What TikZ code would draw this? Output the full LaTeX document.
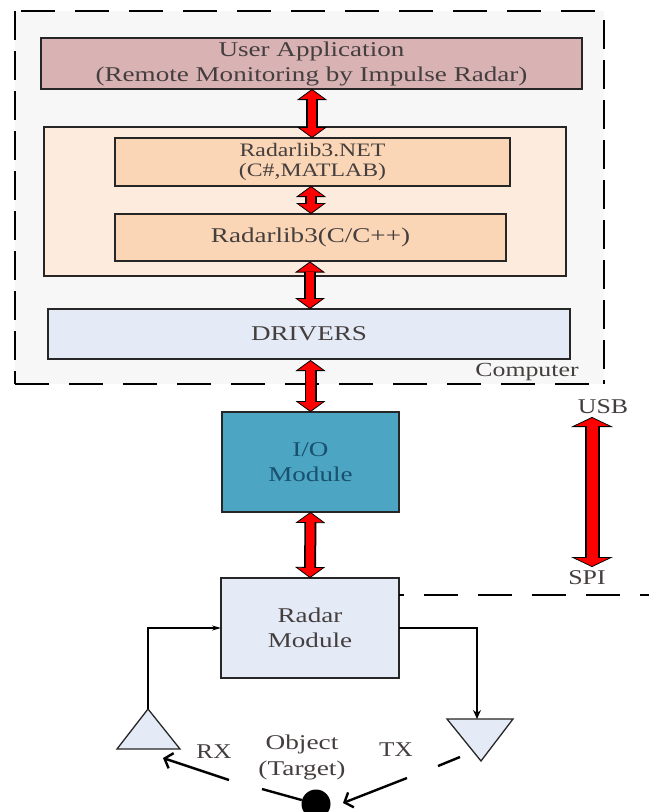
\documentclass[tikz,border=0pt]{standalone}
\usepackage{graphicx}
\usepackage{fontspec}
\setmainfont{Liberation Serif}
\usetikzlibrary{arrows.meta}
\definecolor{txt}{HTML}{443E3E}
\newcommand{\sx}[1]{\scalebox{1.29}[1]{#1}}
\tikzset{
  x=1pt,y=-1pt,
  box/.style={draw=black!85,line width=1.3pt,inner sep=0pt,outer sep=0pt,align=center,text=txt,font=\fontsize{21}{24}\selectfont},
  bigarrow/.style={draw=black,line width=12pt,
    {Triangle[length=11pt,width=30pt,fill=red,line width=0.8pt]}-{Triangle[length=11pt,width=30pt,fill=red,line width=0.8pt]},
    postaction={draw=red,line width=8.5pt,shorten >=10pt,shorten <=10pt,-}},
  wire/.style={draw=black,line width=1.4pt},
  wave/.style={draw=black,line width=2.4pt},
  dashh/.style={draw=black,line width=1.3pt,dash pattern=on 34pt off 20pt},
  dashv/.style={draw=black,line width=1.3pt,dash pattern=on 29pt off 11pt},
  lbl/.style={inner sep=0pt,text=txt,align=center,font=\fontsize{21}{26}\selectfont},
}
\begin{document}
\begin{tikzpicture}
\useasboundingbox (0,0) rectangle (649,812);
\fill[white] (0,0) rectangle (649,812);
\coordinate (tl) at (15,11);
\coordinate (br) at (604,384);
\path[fill=black!3] (tl) rectangle (br);
\draw[dashh] (21,11) -- (br |- tl);
\draw[dashh] (15,384) -- (br);
\draw[dashv] (tl) -- (15,384);
\draw[dashv] (604,20) -- (br);
\node[lbl,font=\fontsize{20}{24}\selectfont] (comp) at (527,372) {\sx{Computer}};
\node[box,fill={rgb,255:red,217;green,178;blue,180},minimum width=541pt,minimum height=51pt] (user) at (311.5,63.5) {\sx{User Application}\\[1pt]\sx{(Remote Monitoring by Impulse Radar)}};
\node[box,fill={rgb,255:red,253;green,235;blue,222},minimum width=522pt,minimum height=149pt] (outer) at (305,201.5) {};
\node[box,fill={rgb,255:red,251;green,214;blue,182},minimum width=395pt,minimum height=48pt,font=\fontsize{19}{20}\selectfont] (net) at (312.5,162) {\scalebox{1.25}[1]{Radarlib3.NET}\\\scalebox{1.25}[1]{(C\#,MATLAB)}};
\node[box,fill={rgb,255:red,251;green,214;blue,182},minimum width=391pt,minimum height=47pt] (lib) at (310.5,237.5) {\sx{Radarlib3(C/C++)}};
\node[box,fill={rgb,255:red,228;green,235;blue,246},minimum width=522pt,minimum height=50pt] (drv) at (309,334) {\sx{DRIVERS}};
\node[box,fill={rgb,255:red,75;green,165;blue,195},text={rgb,255:red,25;green,80;blue,110},minimum width=177pt,minimum height=100pt,font=\fontsize{21}{25}\selectfont] (io) at (310.5,462) {\sx{I/O}\\\sx{Module}};
\node[box,fill={rgb,255:red,228;green,235;blue,246},minimum width=178pt,minimum height=100pt,font=\fontsize{21}{25}\selectfont] (radar) at (310,628) {\sx{Radar}\\\sx{Module}};

\draw[bigarrow] (312,89) -- (312,138);
\draw[bigarrow] (311,186) -- (311,214);
\draw[bigarrow] (310,261.5) -- (310,309);
\draw[bigarrow] (310.5,360) -- (io.north);
\draw[bigarrow] (io.south) -- (radar.north);

\coordinate (usbtop) at (592,417);
\coordinate (spibot) at (592,567);
\draw[bigarrow,line width=15pt,{Triangle[length=10pt,width=42pt,fill=red,line width=0.8pt]}-{Triangle[length=10pt,width=42pt,fill=red,line width=0.8pt]},postaction={draw=red,line width=11pt,shorten >=9pt,shorten <=9pt,-}] (usbtop) -- (spibot);
\node[lbl] (usb) at (603,407) {\scalebox{1.23}[1]{USB}};
\node[lbl] (spi) at (587,578) {\scalebox{1.23}[1]{SPI}};

\coordinate (dashend) at (649,595);
\draw[dashh,dash phase=29pt] (radar.east |- dashend) -- (dashend);

% antennas
\coordinate (rxa) at (148,709);
\coordinate (txa) at (477,719);
\draw[line width=1.3pt,draw=black!85,fill={rgb,255:red,228;green,235;blue,246}] (rxa) -- (117,749) -- (180,749) -- cycle;
\draw[line width=1.3pt,draw=black!85,fill={rgb,255:red,228;green,235;blue,246}] (447,719) -- (513,719) -- (481,761) -- cycle;
\draw[wire,-{Stealth[length=9pt,width=5pt]}] (rxa) -- (rxa |- radar.west) -- (radar.west);
\draw[wire,-{Stealth[length=9pt,width=8pt]}] (radar.east) -- (radar.east -| txa) -- (txa);

% waves
\coordinate (w1a) at (229,780);
\coordinate (w1b) at (163,758);
\coordinate (w2a) at (407,778);
\coordinate (w2b) at (343,803);
\coordinate (w3a) at (460,757);
\coordinate (w3b) at (438,766);
\coordinate (w4a) at (262,789);
\node[circle,fill=black,minimum width=29pt,inner sep=0pt] (target) at (316,804) {};
\draw[wave,-{Straight Barb[length=7pt,width=16pt]}] (w1a) -- (w1b);
\draw[wave,-{Straight Barb[length=7pt,width=16pt]}] (w2a) -- (w2b);
\draw[wave] (w3a) -- (w3b);
\draw[wave] (w4a) -- (target);

\node[lbl] (rx) at (214,752) {\scalebox{1.2}[1]{RX}};
\node[lbl] (tx) at (396,750) {\scalebox{1.2}[1]{TX}};
\node[lbl] (obj) at (302,757) {\scalebox{1.3}[1]{Object}\\\scalebox{1.3}[1]{(Target)}};
\end{tikzpicture}
\end{document}
